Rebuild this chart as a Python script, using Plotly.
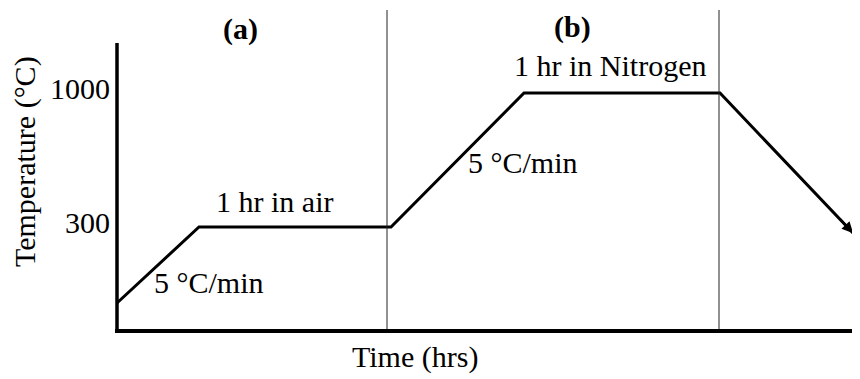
import plotly.graph_objects as go

# Schematic heating profile (schematic time / temperature-level units)
time_pts = [0, 82, 274, 407, 603, 736]
temp_level = [26, 102, 102, 236, 236, 96]

# Temperature tick levels and labels
tick_levels = [102, 236]
tick_labels = ["300", "1000"]

# Stage dividers (time positions)
dividers = [270, 602]

# Text annotations: (text, x, y)
stage_labels = [("<b>(a)</b>", 123, 300), ("<b>(b)</b>", 455, 302)]
step_labels = [
    ("1 hr in air", 157, 128),
    ("5 °C/min", 92, 47),
    ("1 hr in Nitrogen", 493, 264),
    ("5 °C/min", 406, 167),
]

FONT = "Liberation Serif, Times New Roman, serif"
FS = 30

fig = go.Figure()
fig.add_trace(go.Scatter(
    x=time_pts, y=temp_level, mode="lines",
    line=dict(color="black", width=3), hoverinfo="skip", showlegend=False,
    cliponaxis=False,
))

# arrow head at end of cooling ramp
fig.add_annotation(
    x=time_pts[-1], y=temp_level[-1], ax=time_pts[-1] - 14, ay=temp_level[-1] + 15,
    xref="x", yref="y", axref="x", ayref="y", text="", showarrow=True,
    arrowhead=2, arrowsize=1.0, arrowwidth=2.2, arrowcolor="black", standoff=0,
)

shapes = []
for d in dividers:
    shapes.append(dict(type="line", xref="x", yref="y", x0=d, x1=d, y0=0, y1=319,
                       line=dict(color="#222222", width=1)))
# y axis line (shorter than plot area)
shapes.append(dict(type="line", xref="x", yref="y", x0=0, x1=0, y0=-2, y1=286,
                   line=dict(color="black", width=3.5)))

annotations = []
for t, x, y in stage_labels + step_labels:
    annotations.append(dict(text=t, x=x, y=y, xref="x", yref="y", showarrow=False,
                            font=dict(family=FONT, size=FS, color="black"),
                            xanchor="center", yanchor="middle"))
annotations.append(dict(text="Time (hrs)", x=0.4027, y=-0.088, xref="paper", yref="paper",
                        showarrow=False, font=dict(family=FONT, size=FS, color="black"),
                        xanchor="center", yanchor="middle"))
annotations.append(dict(text="Temperature (°C)", x=-0.1208, y=0.5235, xref="paper", yref="paper",
                        showarrow=False, textangle=-90,
                        font=dict(family=FONT, size=FS, color="black"),
                        xanchor="center", yanchor="middle"))

for a in annotations:
    fig.add_annotation(**a)

# page body has an 8px margin, so the figure is sized/placed to compensate
fig.update_layout(
    width=852, height=371,
    margin=dict(l=107, r=0, t=2, b=50),
    paper_bgcolor="white", plot_bgcolor="white",
    shapes=shapes,
    xaxis=dict(range=[-2, 743], showgrid=False, zeroline=False, showticklabels=False,
               ticks="", showline=True, linecolor="black", linewidth=3.5, fixedrange=True),
    yaxis=dict(range=[0, 319], showgrid=False, zeroline=False, ticks="",
               tickvals=tick_levels, ticktext=tick_labels, ticklabelstandoff=4,
               ticklabelshift=-5,
               tickfont=dict(family=FONT, size=FS, color="black"),
               showline=False, fixedrange=True),
)

fig.write_html("out.html")
